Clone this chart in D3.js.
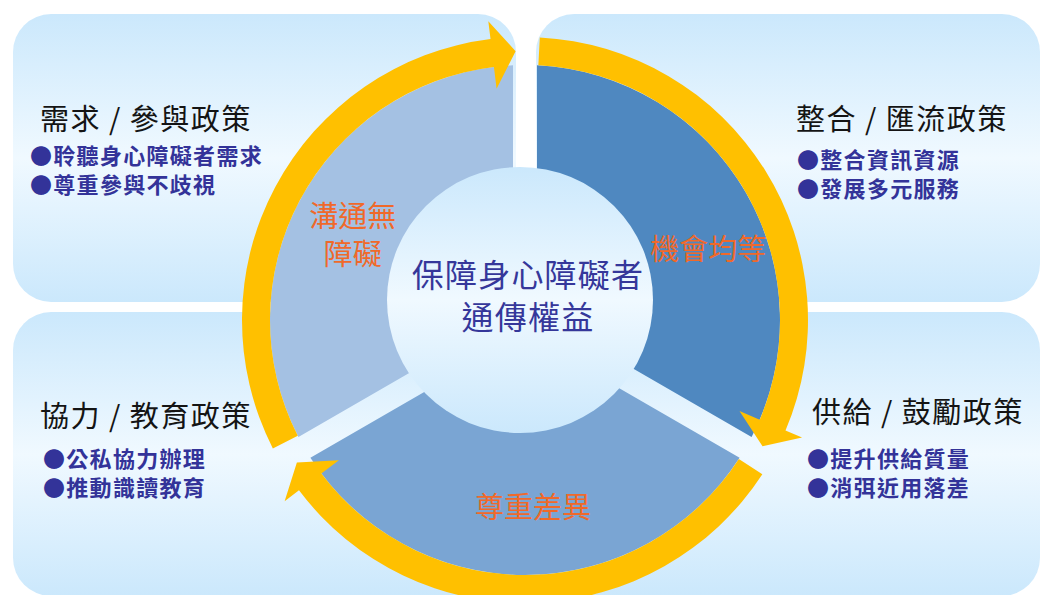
<!DOCTYPE html>
<html>
<head>
<meta charset="utf-8">
<script src="https://cdn.jsdelivr.net/npm/d3@7"></script>
<style>
  html, body { margin: 0; padding: 0; background: #fff; }
  svg { display: block; }
</style>
</head>
<body>
<svg id="chart"></svg>
<script>
// diagram content
const centerLines = ['保障身心障礙者', '通傳權益'];
const segmentShares = [1, 1, 1];
const segmentLabels = [['機會均等'], ['尊重差異'], ['溝通無', '障礙']];
const policyTitles = ['需求 / 參與政策', '整合 / 匯流政策', '協力 / 教育政策', '供給 / 鼓勵政策'];
const policyBullets = [
  ['聆聽身心障礙者需求', '尊重參與不歧視'],
  ['整合資訊資源', '發展多元服務'],
  ['公私協力辦理', '推動識讀教育'],
  ['提升供給質量', '消弭近用落差']
];

const W = 1040, H = 595;
const font = '"Noto Sans CJK TC", "Noto Sans CJK SC", sans-serif';
const deg = Math.PI / 180;

// ring geometry
const cx = 525, cy = 320;
const rIn = 60, rOut = 255;
const bandIn = 255, bandOut = 283, bandMid = 269;
const headIn = 233, headOut = 301;
const gap = 24;
const segColors = ['#4f88c0', '#7aa5d3', '#a4c1e3'];
const arrowColor = '#ffc000';

// quadrant boxes and text anchors
const boxes = [
  { x: 13, y: 14, w: 503, h: 288 },
  { x: 536, y: 14, w: 504, h: 288 },
  { x: 13, y: 312, w: 503, h: 284 },
  { x: 536, y: 312, w: 504, h: 284 }
];
const textPos = [
  { tx: 40, ty: 117, bx: 30, by: 154 },
  { tx: 796, ty: 117, bx: 797, by: 158 },
  { tx: 40, ty: 414, bx: 43, by: 457 },
  { tx: 812, ty: 410, bx: 807, by: 457 }
];
// nudges of segment labels from their centroid
const labelNudge = [[17, 23], [8, -7], [-6, 9]];

const svg = d3.select('#chart')
  .attr('width', W)
  .attr('height', H)
  .attr('viewBox', `0 0 ${W} ${H}`);

const defs = svg.append('defs');
const grad = defs.append('linearGradient')
  .attr('id', 'boxGrad')
  .attr('x1', 0).attr('y1', 0).attr('x2', 0).attr('y2', 1);
grad.append('stop').attr('offset', '0%').attr('stop-color', '#cbe8fc');
grad.append('stop').attr('offset', '50%').attr('stop-color', '#f0f9ff');
grad.append('stop').attr('offset', '100%').attr('stop-color', '#cbe8fc');

svg.append('rect').attr('width', W).attr('height', H).attr('fill', '#fff');

svg.selectAll('.box')
  .data(boxes)
  .enter()
  .append('rect')
  .attr('class', 'box')
  .attr('x', d => d.x)
  .attr('y', d => d.y)
  .attr('width', d => d.w)
  .attr('height', d => d.h)
  .attr('rx', 38)
  .attr('fill', 'url(#boxGrad)');

// policy titles + bullets
const quad = svg.selectAll('.quad')
  .data(policyTitles)
  .enter()
  .append('g')
  .attr('class', 'quad');

quad.append('text')
  .attr('x', (d, i) => textPos[i].tx)
  .attr('y', (d, i) => textPos[i].ty)
  .attr('dominant-baseline', 'central')
  .style('font-family', font)
  .style('font-size', '29px')
  .style('letter-spacing', '1.5px')
  .style('fill', '#141414')
  .text(d => d);

quad.each(function (d, i) {
  d3.select(this).selectAll('.bullet')
    .data(policyBullets[i])
    .enter()
    .append('text')
    .attr('class', 'bullet')
    .attr('x', textPos[i].bx)
    .attr('y', (b, j) => textPos[i].by + j * 29)
    .attr('dominant-baseline', 'central')
    .style('font-family', font)
    .style('font-size', '22px')
    .style('letter-spacing', '1.3px')
    .style('font-weight', '700')
    .style('fill', '#333399')
    .text(b => '●' + b);
});

// wheel
const pie = d3.pie().value(d => d).sort(null);
const slices = pie(segmentShares);

const segArc = d3.arc()
  .innerRadius(rIn)
  .outerRadius(rOut)
  .padAngle(gap / rOut)
  .padRadius(rOut);

const wheel = svg.append('g').attr('transform', `translate(${cx},${cy})`);

wheel.selectAll('.seg')
  .data(slices)
  .enter()
  .append('path')
  .attr('class', 'seg')
  .attr('d', segArc)
  .attr('fill', (d, i) => segColors[i]);

const pt = (r, a) => [r * Math.sin(a), -r * Math.cos(a)];

function arrowPath(a0, tip) {
  const ab = tip - 5 * deg;
  const p = d3.path();
  p.moveTo(...pt(bandOut, a0));
  p.arc(0, 0, bandOut, a0 - Math.PI / 2, ab - Math.PI / 2, false);
  p.lineTo(...pt(headOut, ab));
  p.lineTo(...pt(bandMid, tip));
  p.lineTo(...pt(headIn, ab));
  p.lineTo(...pt(bandIn, ab));
  p.arc(0, 0, bandIn, ab - Math.PI / 2, a0 - Math.PI / 2, true);
  p.closePath();
  return p.toString();
}

wheel.selectAll('.arrow')
  .data(slices)
  .enter()
  .append('path')
  .attr('class', 'arrow')
  .attr('d', d => arrowPath(d.startAngle + 3 * deg, d.endAngle - 2 * deg))
  .attr('fill', arrowColor);

// centre disc
svg.append('circle')
  .attr('cx', 520)
  .attr('cy', 300)
  .attr('r', 133)
  .attr('fill', 'url(#boxGrad)');

const centreText = svg.append('text')
  .attr('text-anchor', 'middle')
  .attr('dominant-baseline', 'central')
  .style('font-family', font)
  .style('font-size', '32px')
  .style('letter-spacing', '1.2px')
  .style('fill', '#35379a');

centreText.selectAll('tspan')
  .data(centerLines)
  .enter()
  .append('tspan')
  .attr('x', 528)
  .attr('y', (d, i) => 273 + i * 42)
  .text(d => d);

// segment labels
const labelArc = d3.arc().innerRadius(192).outerRadius(192);

slices.forEach((s, i) => {
  const [lx, ly] = labelArc.centroid(s);
  const lines = segmentLabels[i];
  wheel.append('text')
    .attr('transform', `translate(${lx + labelNudge[i][0]},${ly + labelNudge[i][1]})`)
    .attr('text-anchor', 'middle')
    .attr('dominant-baseline', 'central')
    .style('font-family', font)
    .style('font-size', '29px')
    .style('fill', '#f0692a')
    .selectAll('tspan')
    .data(lines)
    .enter()
    .append('tspan')
    .attr('x', 0)
    .attr('y', (d, j) => (j - (lines.length - 1) / 2) * 38)
    .text(d => d);
});
</script>
</body>
</html>
